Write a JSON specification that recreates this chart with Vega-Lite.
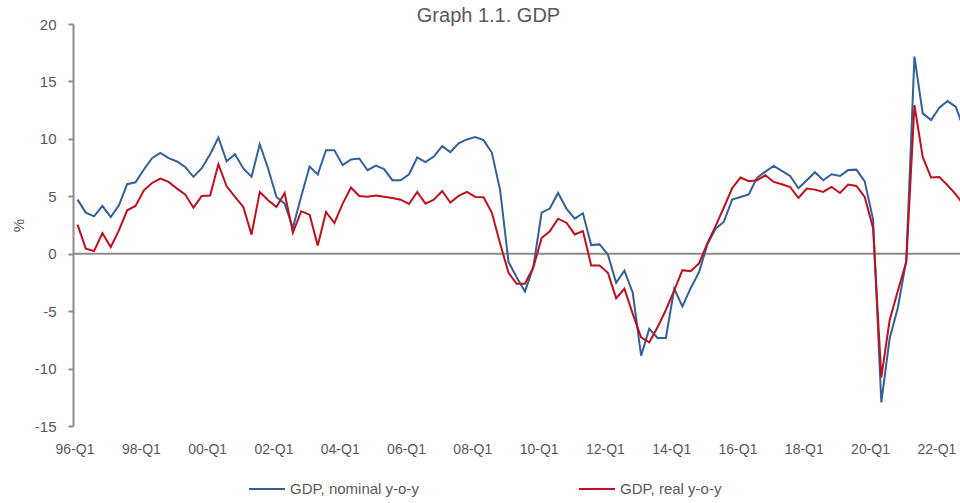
{
  "$schema": "https://vega.github.io/schema/vega-lite/v6.json",
  "width": 887,
  "height": 402,
  "autosize": {"type": "none"},
  "padding": {"left": 73, "top": 24, "right": 0, "bottom": 77},
  "background": "white",
  "config": {"view": {"stroke": null}, "font": "Liberation Sans"},
  "title": {"text": "Graph 1.1. GDP", "fontSize": 20, "fontWeight": "normal", "color": "#595959", "font": "Liberation Sans", "anchor": "middle", "frame": "group", "dx": -28, "dy": 25, "offset": 0, "baseline": "alphabetic"},
  "data": {"values": [
    {"q": "1996-01-01", "nominal": 4.71, "real": 2.53},
    {"q": "1996-04-01", "nominal": 3.58, "real": 0.44},
    {"q": "1996-07-01", "nominal": 3.25, "real": 0.23},
    {"q": "1996-10-01", "nominal": 4.16, "real": 1.80},
    {"q": "1997-01-01", "nominal": 3.19, "real": 0.58},
    {"q": "1997-04-01", "nominal": 4.21, "real": 2.03},
    {"q": "1997-07-01", "nominal": 6.05, "real": 3.78},
    {"q": "1997-10-01", "nominal": 6.22, "real": 4.16},
    {"q": "1998-01-01", "nominal": 7.33, "real": 5.52},
    {"q": "1998-04-01", "nominal": 8.32, "real": 6.16},
    {"q": "1998-07-01", "nominal": 8.78, "real": 6.54},
    {"q": "1998-10-01", "nominal": 8.32, "real": 6.25},
    {"q": "1999-01-01", "nominal": 8.03, "real": 5.67},
    {"q": "1999-04-01", "nominal": 7.56, "real": 5.17},
    {"q": "1999-07-01", "nominal": 6.69, "real": 4.01},
    {"q": "1999-10-01", "nominal": 7.44, "real": 5.03},
    {"q": "2000-01-01", "nominal": 8.66, "real": 5.06},
    {"q": "2000-04-01", "nominal": 10.12, "real": 7.79},
    {"q": "2000-07-01", "nominal": 8.05, "real": 5.87},
    {"q": "2000-10-01", "nominal": 8.66, "real": 4.94},
    {"q": "2001-01-01", "nominal": 7.42, "real": 4.07},
    {"q": "2001-04-01", "nominal": 6.69, "real": 1.66},
    {"q": "2001-07-01", "nominal": 9.54, "real": 5.38},
    {"q": "2001-10-01", "nominal": 7.42, "real": 4.65},
    {"q": "2002-01-01", "nominal": 4.94, "real": 4.07},
    {"q": "2002-04-01", "nominal": 4.36, "real": 5.29},
    {"q": "2002-07-01", "nominal": 2.25, "real": 1.83},
    {"q": "2002-10-01", "nominal": 5.0, "real": 3.70},
    {"q": "2003-01-01", "nominal": 7.59, "real": 3.40},
    {"q": "2003-04-01", "nominal": 6.90, "real": 0.72},
    {"q": "2003-07-01", "nominal": 9.01, "real": 3.63},
    {"q": "2003-10-01", "nominal": 9.01, "real": 2.67},
    {"q": "2004-01-01", "nominal": 7.71, "real": 4.36},
    {"q": "2004-04-01", "nominal": 8.20, "real": 5.76},
    {"q": "2004-07-01", "nominal": 8.29, "real": 5.03},
    {"q": "2004-10-01", "nominal": 7.27, "real": 4.97},
    {"q": "2005-01-01", "nominal": 7.68, "real": 5.06},
    {"q": "2005-04-01", "nominal": 7.36, "real": 4.95},
    {"q": "2005-07-01", "nominal": 6.40, "real": 4.85},
    {"q": "2005-10-01", "nominal": 6.40, "real": 4.70},
    {"q": "2006-01-01", "nominal": 6.92, "real": 4.33},
    {"q": "2006-04-01", "nominal": 8.38, "real": 5.38},
    {"q": "2006-07-01", "nominal": 7.97, "real": 4.36},
    {"q": "2006-10-01", "nominal": 8.46, "real": 4.71},
    {"q": "2007-01-01", "nominal": 9.36, "real": 5.46},
    {"q": "2007-04-01", "nominal": 8.84, "real": 4.45},
    {"q": "2007-07-01", "nominal": 9.62, "real": 5.03},
    {"q": "2007-10-01", "nominal": 9.95, "real": 5.38},
    {"q": "2008-01-01", "nominal": 10.15, "real": 4.94},
    {"q": "2008-04-01", "nominal": 9.89, "real": 4.91},
    {"q": "2008-07-01", "nominal": 8.81, "real": 3.58},
    {"q": "2008-10-01", "nominal": 5.52, "real": 0.87},
    {"q": "2009-01-01", "nominal": -0.73, "real": -1.66},
    {"q": "2009-04-01", "nominal": -2.04, "real": -2.62},
    {"q": "2009-07-01", "nominal": -3.29, "real": -2.62},
    {"q": "2009-10-01", "nominal": -1.17, "real": -1.2},
    {"q": "2010-01-01", "nominal": 3.58, "real": 1.36},
    {"q": "2010-04-01", "nominal": 3.93, "real": 1.95},
    {"q": "2010-07-01", "nominal": 5.29, "real": 3.05},
    {"q": "2010-10-01", "nominal": 3.93, "real": 2.70},
    {"q": "2011-01-01", "nominal": 3.05, "real": 1.68},
    {"q": "2011-04-01", "nominal": 3.52, "real": 1.97},
    {"q": "2011-07-01", "nominal": 0.75, "real": -1.02},
    {"q": "2011-10-01", "nominal": 0.81, "real": -1.02},
    {"q": "2012-01-01", "nominal": -0.06, "real": -1.66},
    {"q": "2012-04-01", "nominal": -2.53, "real": -3.87},
    {"q": "2012-07-01", "nominal": -1.48, "real": -3.05},
    {"q": "2012-10-01", "nominal": -3.40, "real": -5.24},
    {"q": "2013-01-01", "nominal": -8.87, "real": -7.28},
    {"q": "2013-04-01", "nominal": -6.54, "real": -7.71},
    {"q": "2013-07-01", "nominal": -7.33, "real": -6.4},
    {"q": "2013-10-01", "nominal": -7.33, "real": -4.9},
    {"q": "2014-01-01", "nominal": -3.05, "real": -3.2},
    {"q": "2014-04-01", "nominal": -4.58, "real": -1.43},
    {"q": "2014-07-01", "nominal": -3.0, "real": -1.53},
    {"q": "2014-10-01", "nominal": -1.6, "real": -0.85},
    {"q": "2015-01-01", "nominal": 0.8, "real": 0.9},
    {"q": "2015-04-01", "nominal": 2.18, "real": 2.4},
    {"q": "2015-07-01", "nominal": 2.76, "real": 4.0},
    {"q": "2015-10-01", "nominal": 4.71, "real": 5.7},
    {"q": "2016-01-01", "nominal": 4.94, "real": 6.63},
    {"q": "2016-04-01", "nominal": 5.17, "real": 6.31},
    {"q": "2016-07-01", "nominal": 6.6, "real": 6.40},
    {"q": "2016-10-01", "nominal": 7.15, "real": 6.83},
    {"q": "2017-01-01", "nominal": 7.65, "real": 6.25},
    {"q": "2017-04-01", "nominal": 7.21, "real": 6.05},
    {"q": "2017-07-01", "nominal": 6.77, "real": 5.81},
    {"q": "2017-10-01", "nominal": 5.70, "real": 4.85},
    {"q": "2018-01-01", "nominal": 6.40, "real": 5.67},
    {"q": "2018-04-01", "nominal": 7.10, "real": 5.58},
    {"q": "2018-07-01", "nominal": 6.40, "real": 5.38},
    {"q": "2018-10-01", "nominal": 6.92, "real": 5.81},
    {"q": "2019-01-01", "nominal": 6.77, "real": 5.29},
    {"q": "2019-04-01", "nominal": 7.28, "real": 6.02},
    {"q": "2019-07-01", "nominal": 7.32, "real": 5.9},
    {"q": "2019-10-01", "nominal": 6.3, "real": 4.94},
    {"q": "2020-01-01", "nominal": 3.0, "real": 2.25},
    {"q": "2020-04-01", "nominal": -12.95, "real": -10.77},
    {"q": "2020-07-01", "nominal": -7.42, "real": -5.82},
    {"q": "2020-10-01", "nominal": -4.66, "real": -3.2},
    {"q": "2021-01-01", "nominal": -0.58, "real": -0.73},
    {"q": "2021-04-01", "nominal": 17.16, "real": 12.94},
    {"q": "2021-07-01", "nominal": 12.22, "real": 8.43},
    {"q": "2021-10-01", "nominal": 11.63, "real": 6.63},
    {"q": "2022-01-01", "nominal": 12.71, "real": 6.68},
    {"q": "2022-04-01", "nominal": 13.29, "real": 5.96},
    {"q": "2022-07-01", "nominal": 12.79, "real": 5.17},
    {"q": "2022-10-01", "nominal": 10.8, "real": 4.2}
  ]},
  "layer": [
    {
      "data": {"values": [{}]},
      "mark": {"type": "rule", "color": "#8c8c8c", "strokeWidth": 2},
      "encoding": {"y": {"datum": 0, "type": "quantitative"}}
    },
    {
      "transform": [{"fold": ["nominal", "real"], "as": ["series", "value"]}],
      "mark": {"type": "line", "strokeWidth": 2, "clip": true},
      "encoding": {
        "x": {
          "field": "q", "type": "temporal",
          "scale": {"type": "utc", "domain": [{"year": 1995, "month": 11, "date": 12, "utc": true}, {"year": 2022, "month": 8, "date": 16, "utc": true}]},
          "axis": {
            "values": [
              {"year": 1996, "month": 1, "date": 1, "utc": true},
              {"year": 1998, "month": 1, "date": 1, "utc": true},
              {"year": 2000, "month": 1, "date": 1, "utc": true},
              {"year": 2002, "month": 1, "date": 1, "utc": true},
              {"year": 2004, "month": 1, "date": 1, "utc": true},
              {"year": 2006, "month": 1, "date": 1, "utc": true},
              {"year": 2008, "month": 1, "date": 1, "utc": true},
              {"year": 2010, "month": 1, "date": 1, "utc": true},
              {"year": 2012, "month": 1, "date": 1, "utc": true},
              {"year": 2014, "month": 1, "date": 1, "utc": true},
              {"year": 2016, "month": 1, "date": 1, "utc": true},
              {"year": 2018, "month": 1, "date": 1, "utc": true},
              {"year": 2020, "month": 1, "date": 1, "utc": true},
              {"year": 2022, "month": 1, "date": 1, "utc": true}
            ],
            "labelExpr": "utcFormat(datum.value, '%y') + '-Q' + utcquarter(datum.value)",
            "domain": false, "ticks": false, "tickSize": 0, "grid": false,
            "labelPadding": 16, "labelFontSize": 14, "labelColor": "#595959",
            "labelOffset": -3, "labelFlush": false, "labelOverlap": false, "title": null
          }
        },
        "y": {
          "field": "value", "type": "quantitative",
          "scale": {"domain": [-15, 20], "nice": false, "zero": false},
          "axis": {
            "values": [-15, -10, -5, 0, 5, 10, 15, 20],
            "labelExpr": "'' + datum.value",
            "grid": false, "domainColor": "#8c8c8c", "domainWidth": 2,
            "tickColor": "#8c8c8c", "tickWidth": 2, "tickSize": 5,
            "labelPadding": 12, "labelFontSize": 15, "labelColor": "#595959",
            "title": "%", "titleFontSize": 15, "titleFontWeight": "normal", "titleColor": "#595959", "titlePadding": 8
          }
        },
        "color": {
          "field": "series", "type": "nominal",
          "scale": {"domain": ["nominal", "real"], "range": ["#33609A", "#C0101E"]},
          "legend": {
            "orient": "none", "legendX": 175, "legendY": 446, "direction": "horizontal", "title": null,
            "symbolType": "stroke", "symbolSize": 1296, "symbolStrokeWidth": 2,
            "labelFontSize": 15, "labelColor": "#595959", "labelOffset": 4, "columnPadding": 156,
            "labelExpr": "datum.label == 'nominal' ? 'GDP, nominal y-o-y' : 'GDP, real y-o-y'"
          }
        }
      }
    }
  ]
}
